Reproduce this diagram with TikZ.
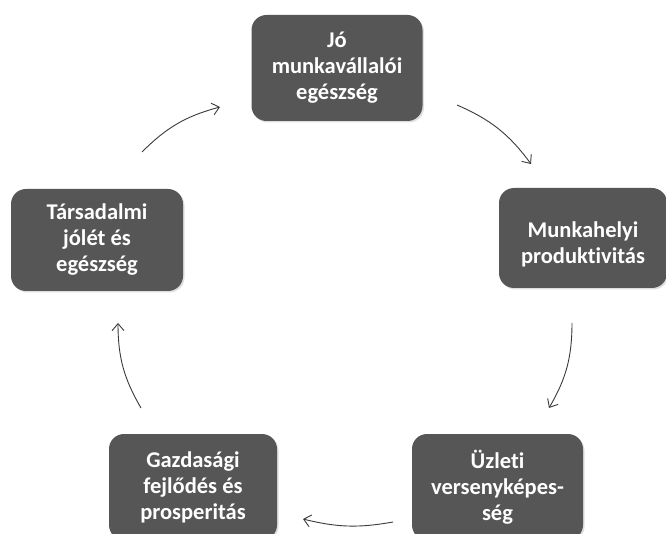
\documentclass[tikz,border=0pt]{standalone}
\usepackage{fontspec}
\setmainfont{Carlito}[Ligatures=NoCommon]
\usetikzlibrary{arrows.meta,shadows}
\definecolor{boxgray}{HTML}{565656}
\definecolor{arrowgray}{HTML}{3A3A3A}
\tikzset{
  stage/.style={draw=none, fill=boxgray, rounded corners=15pt, text=white,
    font=\fontsize{22.5}{26}\selectfont\bfseries, align=center,
    inner sep=0pt, drop shadow={opacity=0.25, shadow xshift=1.5pt, shadow yshift=-1.5pt}},
  stagetext/.style={text=white, font=\fontsize{22.5}{26}\selectfont\bfseries,
    align=center, inner sep=0pt},
  cyclearrow/.style={draw=arrowgray, line width=0.9pt,
    -{Straight Barb[length=7pt,width=12pt,line width=0.9pt]}}
}
\begin{document}
\begin{tikzpicture}[x=1pt,y=-1pt]
\useasboundingbox (0,0) rectangle (666,534);
\clip (0,0) rectangle (666,534);
\fill[white] (0,0) rectangle (666,534);

% the five stages of the cycle
\node[stage, minimum width=171pt, minimum height=106pt] (top) at (337,68) {Jó\\munkavállalói\\egészség};
\node[stage, minimum width=168pt, minimum height=100pt] (right) at (583,238) {};
\node[stagetext] (righttext) at (583,244) {Munkahelyi\\produktivitás};
\node[stage, minimum width=171pt, minimum height=106pt] (brt) at (497.5,487) {Üzleti\\versenyképes-\\ség};
\node[stage, minimum width=168pt, minimum height=106pt] (blt) at (193,487) {Gazdasági\\fejlődés és\\prosperitás};
\node[stage, minimum width=172pt, minimum height=102pt] (left) at (97,240) {Társadalmi\\jólét és\\egészség};

% free ends of the curved arrows
\coordinate (a1s) at (457,105); \coordinate (a1e) at (531,164);
\coordinate (a2s) at (572,323); \coordinate (a2e) at (549,408);
\coordinate (a3s) at (393,522); \coordinate (a3e) at (303,519);
\coordinate (a4s) at (141,408); \coordinate (a4e) at (118,323);
\coordinate (a5s) at (142,152); \coordinate (a5e) at (220,107);

\draw[cyclearrow] (a1s) to[bend left=15] (a1e);
\draw[cyclearrow] (a2s) to[bend left=15] (a2e);
\draw[cyclearrow] (a3s) to[bend left=12] (a3e);
\draw[cyclearrow] (a4s) to[bend left=15] (a4e);
\draw[cyclearrow] (a5s) to[bend left=15] (a5e);
\end{tikzpicture}
\end{document}
